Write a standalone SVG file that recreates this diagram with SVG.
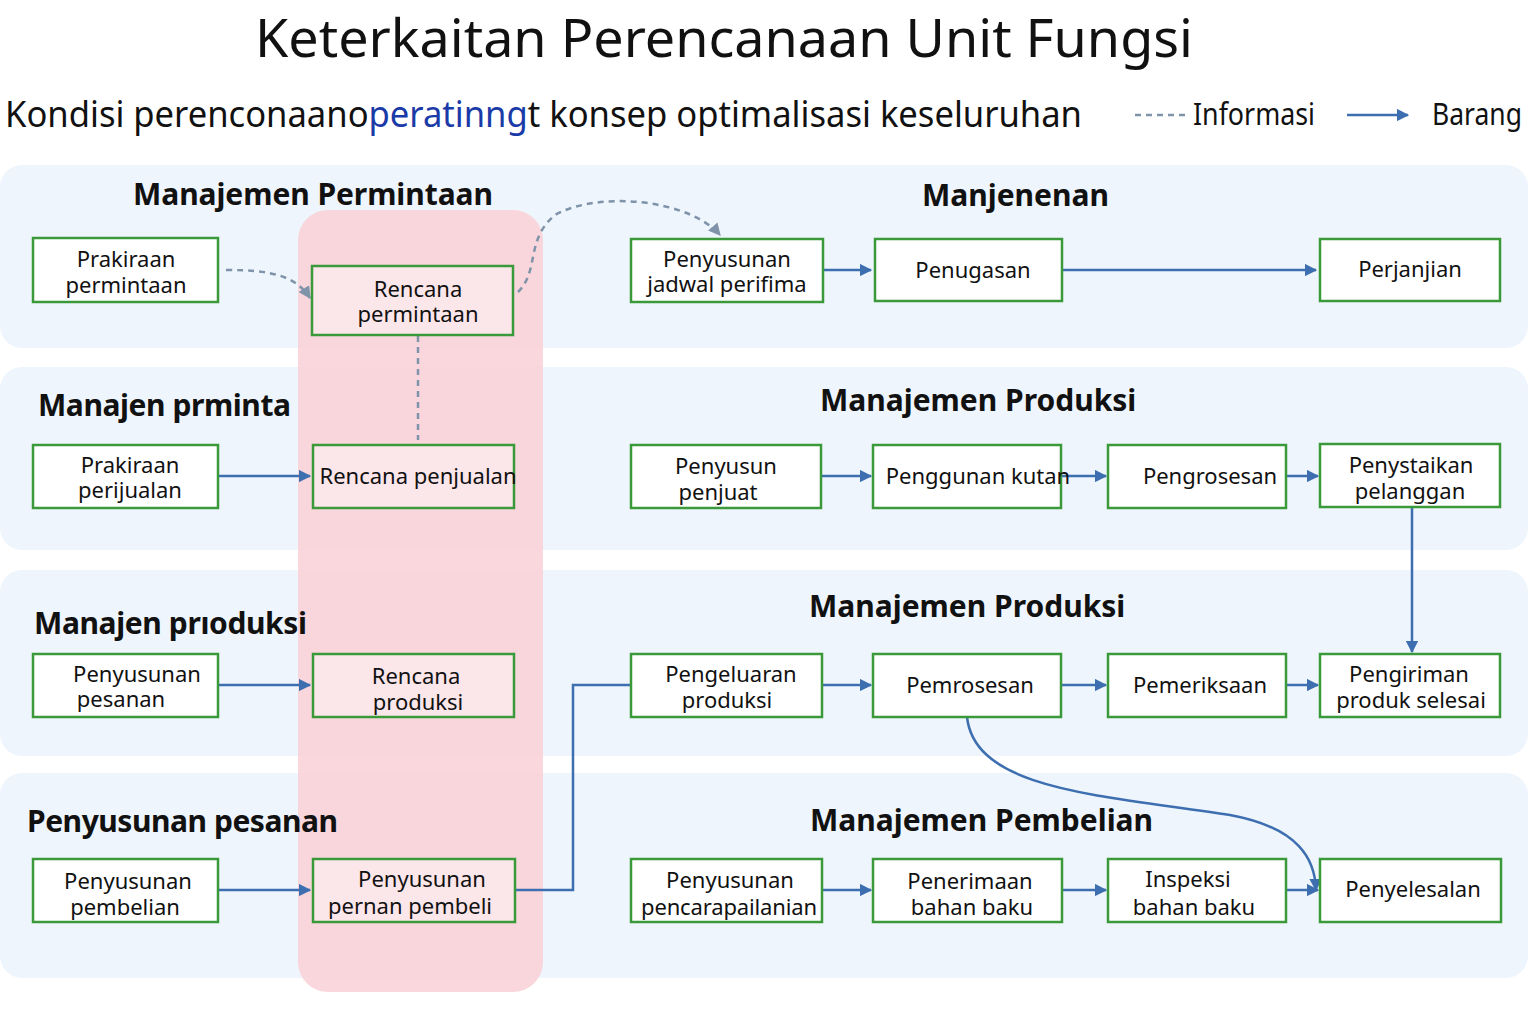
<svg xmlns="http://www.w3.org/2000/svg" width="1536" height="1024" viewBox="0 0 1536 1024">
<defs>
<marker id="ab" viewBox="0 0 10 10" refX="9" refY="5" markerWidth="5" markerHeight="5" orient="auto"><path d="M0,0L10,5L0,10z" fill="#3d6fb0"/></marker>
<marker id="ag" viewBox="0 0 10 10" refX="9" refY="5" markerWidth="5" markerHeight="5" orient="auto"><path d="M0,0L10,5L0,10z" fill="#7f93aa"/></marker>
<style>
text{font-family:"Noto Sans","DejaVu Sans",sans-serif;fill:#111}
.band{fill:#eef5fc}
.n rect{fill:#fff;stroke:#3a9a3a;stroke-width:2.5}
.p rect{fill:#fbe6e9}
.n text{font-size:22px;text-anchor:middle}
.h{font-size:30px;font-weight:bold}
.s{stroke:#3d6fb0;stroke-width:2.5;fill:none;marker-end:url(#ab)}
.d{stroke:#7f93aa;stroke-width:2.5;fill:none;stroke-dasharray:6,5}
</style>
</defs>
<rect width="1536" height="1024" fill="#fff"/>
<g id="bands">
<rect class="band" x="0" y="165" width="1528" height="183" rx="22"/>
<rect class="band" x="0" y="367" width="1528" height="183" rx="22"/>
<rect class="band" x="0" y="570" width="1528" height="186" rx="22"/>
<rect class="band" x="0" y="773" width="1528" height="205" rx="22"/>
<rect x="298" y="210" width="245" height="782" rx="30" fill="#f8d3d8" opacity="0.9"/>
</g>
<g id="titles">
<text x="724" y="57" font-size="53" text-anchor="middle" textLength="938" lengthAdjust="spacingAndGlyphs">Keterkaitan Perencanaan Unit Fungsi</text>
<text x="5" y="127" font-size="36" textLength="1077" lengthAdjust="spacingAndGlyphs">Kondisi perenconaano<tspan fill="#1a3aa8">peratinng</tspan>t  konsep optimalisasi keseluruhan</text>
<line x1="1135" y1="115" x2="1185" y2="115" class="d" stroke-dasharray="4,4"/>
<text x="1193" y="125" font-size="30" textLength="122" lengthAdjust="spacingAndGlyphs">Informasi</text>
<line x1="1347" y1="115" x2="1408" y2="115" class="s"/>
<text x="1432" y="125" font-size="30" textLength="90" lengthAdjust="spacingAndGlyphs">Barang</text>
<text class="h" x="133" y="205" textLength="360">Manajemen Permintaan</text>
<text class="h" x="922" y="206">Manjenenan</text>
<text class="h" x="38" y="416" textLength="253">Manajen prminta</text>
<text class="h" x="820" y="411">Manajemen Produksi</text>
<text class="h" x="34" y="634" textLength="273">Manajen prıoduksi</text>
<text class="h" x="809" y="617">Manajemen Produksi</text>
<text class="h" x="27" y="832" textLength="311">Penyusunan pesanan</text>
<text class="h" x="810" y="831">Manajemen Pembelian</text>
</g>
<g id="connectors">
<path class="d" d="M226,270 C270,270 295,275 310,298" marker-end="url(#ag)"/>
<path class="d" d="M518,292 C540,270 525,240 555,215 C600,190 690,200 720,235" marker-end="url(#ag)"/>
<path class="d" d="M418,336 V440"/>
<path class="s" d="M823,270H871"/>
<path class="s" d="M1062,270H1316"/>
<path class="s" d="M218,476H310"/>
<path class="s" d="M821,476H871"/>
<path class="s" d="M1061,476H1106"/>
<path class="s" d="M1286,476H1318"/>
<path class="s" d="M1412,507V652"/>
<path class="s" d="M218,685H310"/>
<path class="s" d="M822,685H871"/>
<path class="s" d="M1061,685H1106"/>
<path class="s" d="M1286,685H1318"/>
<path d="M515,890H573V685H631" stroke="#3d6fb0" stroke-width="2.5" fill="none"/>
<path class="s" d="M967,717 C975,790 1100,795 1230,815 C1300,828 1315,860 1316,890"/>
<path class="s" d="M218,890H310"/>
<path class="s" d="M822,890H871"/>
<path class="s" d="M1062,890H1106"/>
<path class="s" d="M1286,890H1318"/>
</g>
<g id="n1" class="n"><rect x="33" y="238" width="185" height="64"/><text x="126" y="267">Prakiraan</text><text x="126" y="293">permintaan</text></g>
<g id="n2" class="n p"><rect x="312" y="266" width="201" height="69"/><text x="418" y="297">Rencana</text><text x="418" y="322">permintaan</text></g>
<g id="n3" class="n"><rect x="631" y="239" width="192" height="63"/><text x="727" y="267">Penyusunan</text><text x="727" y="292">jadwal perifima</text></g>
<g id="n4" class="n"><rect x="875" y="239" width="187" height="62"/><text x="973" y="278">Penugasan</text></g>
<g id="n5" class="n"><rect x="1320" y="239" width="180" height="62"/><text x="1410" y="277">Perjanjian</text></g>
<g id="n6" class="n"><rect x="33" y="445" width="185" height="63"/><text x="130" y="473">Prakiraan</text><text x="130" y="498">perijualan</text></g>
<g id="n7" class="n p"><rect x="313" y="445" width="201" height="63"/><text x="418" y="484">Rencana penjualan</text></g>
<g id="n8" class="n"><rect x="631" y="445" width="190" height="63"/><text x="726" y="474">Penyusun</text><text x="718" y="500">penjuat</text></g>
<g id="n9" class="n"><rect x="873" y="445" width="188" height="63"/><text x="978" y="484">Penggunan kutan</text></g>
<g id="n10" class="n"><rect x="1108" y="445" width="178" height="63"/><text x="1210" y="484">Pengrosesan</text></g>
<g id="n11" class="n"><rect x="1320" y="444" width="180" height="63"/><text x="1411" y="473">Penystaikan</text><text x="1410" y="499">pelanggan</text></g>
<g id="n12" class="n"><rect x="33" y="654" width="185" height="63"/><text x="137" y="682">Penyusunan</text><text x="121" y="707">pesanan</text></g>
<g id="n13" class="n p"><rect x="313" y="654" width="201" height="63"/><text x="416" y="684">Rencana</text><text x="418" y="710">produksi</text></g>
<g id="n14" class="n"><rect x="631" y="654" width="191" height="63"/><text x="731" y="682">Pengeluaran</text><text x="727" y="708">produksi</text></g>
<g id="n15" class="n"><rect x="873" y="654" width="188" height="63"/><text x="970" y="693">Pemrosesan</text></g>
<g id="n16" class="n"><rect x="1108" y="654" width="178" height="63"/><text x="1200" y="693">Pemeriksaan</text></g>
<g id="n17" class="n"><rect x="1320" y="654" width="180" height="63"/><text x="1409" y="682">Pengiriman</text><text x="1411" y="708">produk selesai</text></g>
<g id="n18" class="n"><rect x="33" y="859" width="185" height="63"/><text x="128" y="889">Penyusunan</text><text x="125" y="915">pembelian</text></g>
<g id="n19" class="n p"><rect x="313" y="859" width="202" height="63"/><text x="422" y="887">Penyusunan</text><text x="410" y="914">pernan pembeli</text></g>
<g id="n20" class="n"><rect x="631" y="859" width="191" height="63"/><text x="730" y="888">Penyusunan</text><text x="729" y="915" textLength="176">pencarapailanian</text></g>
<g id="n21" class="n"><rect x="873" y="859" width="189" height="63"/><text x="970" y="889">Penerimaan</text><text x="972" y="915">bahan baku</text></g>
<g id="n22" class="n"><rect x="1108" y="859" width="178" height="63"/><text x="1188" y="887">Inspeksi</text><text x="1194" y="915">bahan baku</text></g>
<g id="n23" class="n"><rect x="1320" y="859" width="181" height="63"/><text x="1413" y="897">Penyelesalan</text></g>
</svg>
